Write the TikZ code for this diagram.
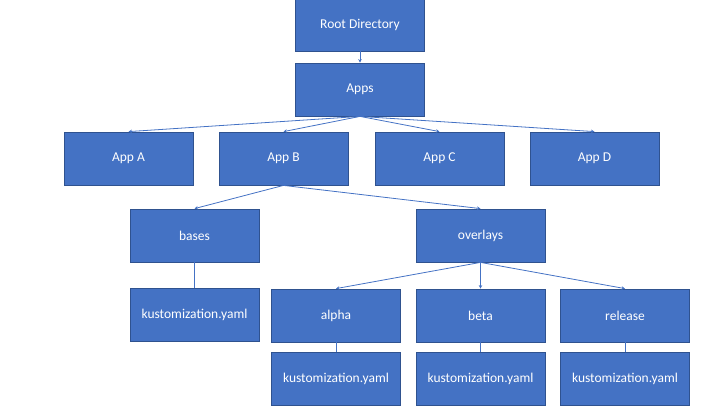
\documentclass[tikz,border=0pt]{standalone}
\usepackage{fontspec}
\setmainfont{Carlito}
\usetikzlibrary{arrows.meta}

\begin{document}
\begin{tikzpicture}[x=1pt, y=-1pt, font=\fontsize{13.5}{16}\selectfont,
   box/.style={draw=boxline, fill=boxblue, text=white, line width=0.8pt,
      minimum width=129pt, minimum height=53pt},
   link/.style={draw=boxblue, line width=0.8pt},
   arr/.style={link, -{Stealth[length=3.5pt,width=3.5pt]}}]
   \definecolor{boxblue}{HTML}{4472C4}
   \definecolor{boxline}{HTML}{2F528F}
   \useasboundingbox (0,0) rectangle (720,405);
   \node [box] (root) at (360,24.5) {Root Directory};
   \node [box] (apps) at (360,89.5) {Apps};
   \node [box] (appa) at (128.5,158.5) {App A};
   \node [box] (appb) at (283.5,158.5) {App B};
   \node [box] (appc) at (439.5,158.5) {App C};
   \node [box] (appd) at (594.5,158.5) {App D};
   \node [box] (bases) at (194.5,235.5) {bases};
   \node [box] (overlays) at (480.5,235.5) {overlays};
   \node [box] (basekust) at (194.5,314.5) {kustomization.yaml};
   \node [box] (alpha) at (336,315.5) {alpha};
   \node [box] (beta) at (480.5,315.5) {beta};
   \node [box] (release) at (625,315.5) {release};
   \node [box] (alphakust) at (336,378.5) {kustomization.yaml};
   \node [box] (betakust) at (480.5,378.5) {kustomization.yaml};
   \node [box] (releasekust) at (625,378.5) {kustomization.yaml};
   \draw[arr] (root.south) -- (apps.north);
   \foreach \app in {appa,appb,appc,appd}
      \draw[arr] (apps.south) -- (\app.north);
   \draw[arr] (appb.south) -- (bases.north);
   \draw[arr] (appb.south) -- (overlays.north);
   \draw[link] (bases.south) -- (basekust.north);
   \foreach \env in {alpha,beta,release}
      \draw[arr] (overlays.south) -- (\env.north);
   \foreach \env in {alpha,beta,release}
      \draw[link] (\env.south) -- (\env kust.north);
\end{tikzpicture}
\end{document}
